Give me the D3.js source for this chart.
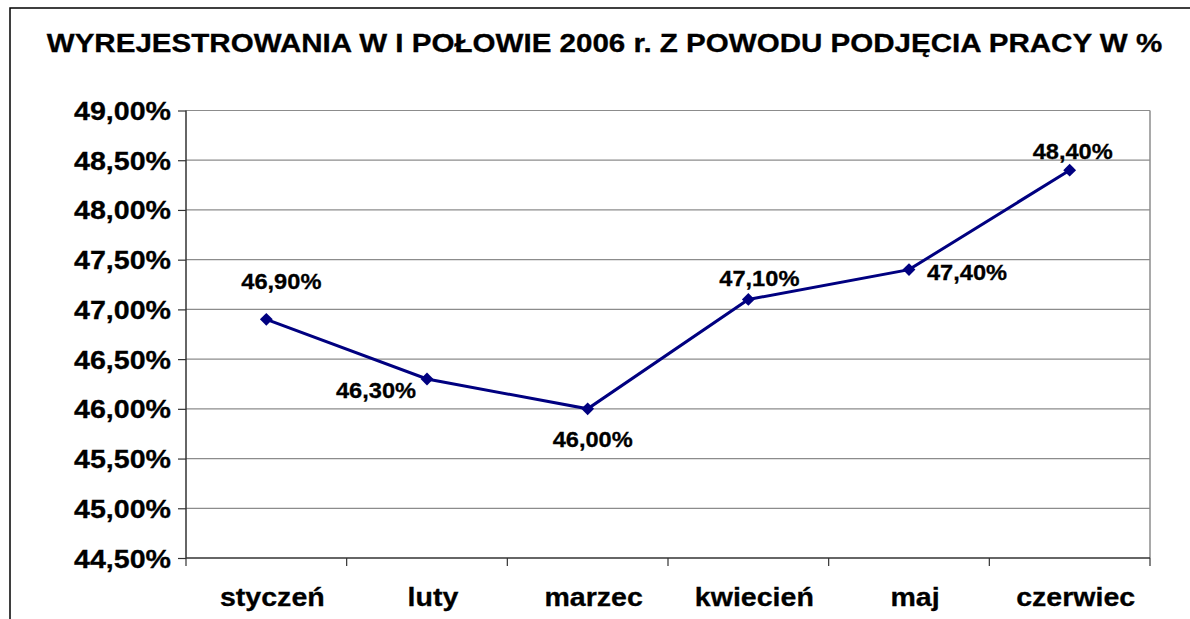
<!DOCTYPE html>
<html>
<head>
<meta charset="utf-8">
<script src="https://cdn.jsdelivr.net/npm/d3@7"></script>
<style>
  body { margin: 0; background: #fff; }
  svg { display: block; font-family: "Liberation Sans", Arial, sans-serif; font-weight: bold; }
  text { stroke: #000; stroke-width: 0.3px; }
</style>
</head>
<body>
<div id="chart"></div>
<script>
// wyrejestrowania z powodu podjecia pracy, I polowa 2006

var months = ["styczeń", "luty", "marzec", "kwiecień", "maj", "czerwiec"];
var shares = [46.9, 46.3, 46.0, 47.1, 47.4, 48.4];
var yTicks = [44.5, 45, 45.5, 46, 46.5, 47, 47.5, 48, 48.5, 49];
var title = "WYREJESTROWANIA W I POŁOWIE 2006 r. Z POWODU PODJĘCIA PRACY W %";

// where each data label sits relative to its point (dx, dy of baseline)
var labelShift = [[15, -30], [-51, 19], [5, 38], [11, -13], [58, 10], [3, -11]];

var w = 1190,
    h = 619;

var plot = {left: 186, right: 1150, top: 110.5, bottom: 558};

var pl = d3.formatLocale({decimal: ",", thousands: " ", grouping: [3], currency: ["", " zł"]});
var fmt = pl.format(".2f");

var svg = d3.select("#chart")
            .append("svg")
            .attr("width", w)
            .attr("height", h);

// outer frame of the chart object
svg.append("rect")
   .attr("x", 10)
   .attr("y", 8)
   .attr("width", 1200)
   .attr("height", 700)
   .style("fill", "none")
   .style("stroke", "#000")
   .style("stroke-width", 1.5);

svg.append("text")
   .attr("transform", "translate(604.5,52) scale(1.155,1)")
   .attr("text-anchor", "middle")
   .attr("font-size", "25.6px")
   .attr("fill", "#000")
   .text(title);

var x = d3.scaleBand()
          .domain(months)
          .range([plot.left, plot.right])
          .padding(0);

var y = d3.scaleLinear()
          .domain([44.5, 49])
          .range([plot.bottom, plot.top]);

// gridlines
svg.append("g")
   .selectAll("line")
   .data(yTicks.slice(1))
   .enter()
   .append("line")
   .attr("x1", plot.left)
   .attr("x2", plot.right)
   .attr("y1", function(d){ return y(d); })
   .attr("y2", function(d){ return y(d); })
   .style("stroke", "#8c8c8c")
   .style("stroke-width", 1.2);

// right edge of plot area
svg.append("line")
   .attr("x1", plot.right).attr("x2", plot.right)
   .attr("y1", plot.top).attr("y2", plot.bottom)
   .style("stroke", "#8c8c8c")
   .style("stroke-width", 1.5);

// y axis
var yAxis = svg.append("g")
   .attr("transform", "translate(" + plot.left + ",0)")
   .call(d3.axisLeft(y).tickValues(yTicks).tickSize(8).tickFormat(function(d){ return fmt(d) + "%"; }));

yAxis.select(".domain").remove();
yAxis.append("line")
   .attr("y1", plot.top).attr("y2", plot.bottom)
   .style("stroke", "#333").style("stroke-width", 1.5);
yAxis.selectAll(".tick line").style("stroke", "#333").style("stroke-width", 1.2);
yAxis.selectAll(".tick text")
   .attr("x", 0)
   .attr("dy", null)
   .attr("transform", "translate(-15,9) scale(1.1,1)")
   .attr("text-anchor", "end")
   .attr("font-size", "26px")
   .attr("font-family", "Liberation Sans, Arial, sans-serif")
   .attr("font-weight", "bold")
   .attr("fill", "#000");

// x axis
var xg = svg.append("g");
xg.append("line")
  .attr("x1", plot.left).attr("x2", plot.right)
  .attr("y1", plot.bottom).attr("y2", plot.bottom)
  .style("stroke", "#333").style("stroke-width", 1.5);

xg.selectAll(".xtick")
  .data(d3.range(months.length + 1))
  .enter()
  .append("line")
  .attr("class", "xtick")
  .attr("x1", function(i){ return plot.left + i * x.step(); })
  .attr("x2", function(i){ return plot.left + i * x.step(); })
  .attr("y1", plot.bottom)
  .attr("y2", plot.bottom + 8)
  .style("stroke", "#333").style("stroke-width", 1.2);

xg.selectAll(".xlab")
  .data(months)
  .enter()
  .append("text")
  .attr("class", "xlab")
  .attr("transform", function(d){
     return "translate(" + (x(d) + x.bandwidth() / 2 + 6) + ",606) scale(1.12,1)";
  })
  .attr("text-anchor", "middle")
  .attr("font-size", "25.5px")
  .attr("fill", "#000")
  .text(function(d){ return d; });

// the series
var pts = months.map(function(m, i){ return {m: m, v: shares[i], i: i}; });

var line = d3.line()
             .x(function(d){ return x(d.m) + x.bandwidth() / 2; })
             .y(function(d){ return y(d.v); });

svg.append("path")
   .datum(pts)
   .attr("d", line)
   .style("fill", "none")
   .style("stroke", "#000080")
   .style("stroke-width", 3);

svg.selectAll(".marker")
   .data(pts)
   .enter()
   .append("path")
   .attr("class", "marker")
   .attr("d", d3.symbol().type(d3.symbolDiamond2).size(105))
   .attr("transform", function(d){
      return "translate(" + (x(d.m) + x.bandwidth() / 2) + "," + y(d.v) + ")";
   })
   .style("fill", "#000080");

svg.selectAll(".dlab")
   .data(pts)
   .enter()
   .append("text")
   .attr("class", "dlab")
   .attr("transform", function(d){
      var cx = x(d.m) + x.bandwidth() / 2 + labelShift[d.i][0];
      var cy = y(d.v) + labelShift[d.i][1];
      return "translate(" + cx + "," + cy + ") scale(1.05,1)";
   })
   .attr("text-anchor", "middle")
   .attr("font-size", "22.5px")
   .attr("fill", "#000")
   .text(function(d){ return fmt(d.v) + "%"; });

</script>
</body>
</html>
